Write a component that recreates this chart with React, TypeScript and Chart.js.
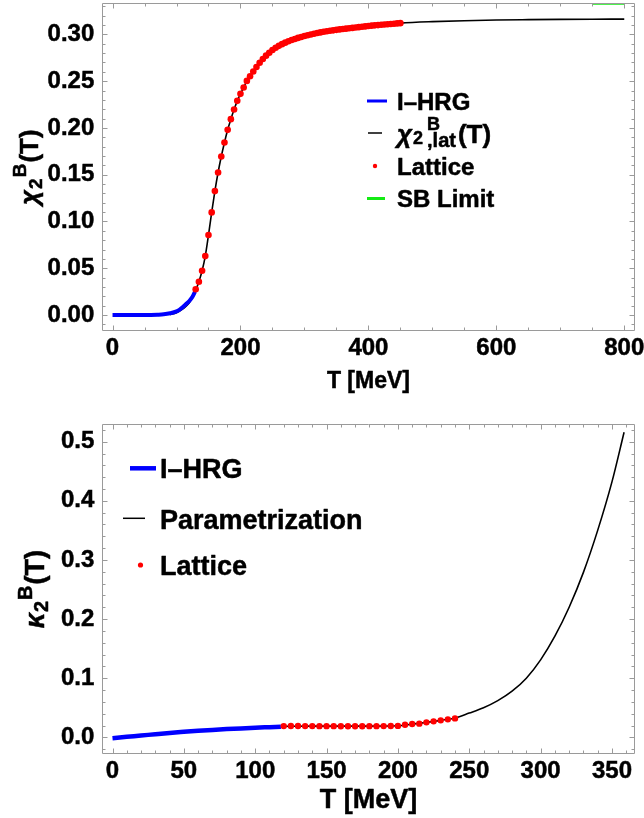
import React, { useEffect, useRef } from 'react';
import { Chart, registerables } from 'chart.js';

Chart.register(...registerables);

const FONT = '"Liberation Sans", Arial, Helvetica, sans-serif';

// ---------------- Top panel: chi_2^B(T) ----------------
const TOP_X_TICKS = [0, 200, 400, 600, 800];
const TOP_Y_TICKS = [0, 0.05, 0.1, 0.15, 0.2, 0.25, 0.3];

const HRG_T = [0, 20, 40, 60, 70, 80, 90, 100, 105, 110, 115, 120, 125, 129];
const HRG_CHI = [0, 0, 0, 0.0001, 0.0003, 0.0007, 0.0018, 0.0038, 0.0058, 0.0085, 0.0118, 0.015, 0.0195, 0.025];

const PARAM_T = [90, 100, 110, 115, 120, 125, 130, 135, 140, 145, 150, 155, 160, 165, 170, 175, 180, 185, 190, 195, 200, 205, 210, 215, 220, 230, 240, 250, 260, 280, 300, 325, 350, 375, 400, 450, 500, 550, 600, 650, 700, 750, 800];
const PARAM_CHI = [0.0004, 0.0025, 0.0065, 0.0095, 0.013, 0.019, 0.0265, 0.0356, 0.0473, 0.063, 0.0855, 0.1097, 0.1325, 0.1524, 0.1695, 0.1845, 0.198, 0.2094, 0.2197, 0.229, 0.2365, 0.2433, 0.2503, 0.2553, 0.2603, 0.2697, 0.2773, 0.2833, 0.2878, 0.294, 0.2983, 0.3022, 0.3049, 0.307, 0.309, 0.3121, 0.3137, 0.3147, 0.3154, 0.3158, 0.3161, 0.3163, 0.3164];

const LAT_T = [130, 135, 140, 145, 150, 155, 160, 165, 170, 175, 180, 185, 190, 195, 200, 205, 210, 215, 220, 225, 230, 235, 240, 245, 250, 255, 260, 265, 270, 275, 280, 285, 290, 295, 300, 305, 310, 315, 320, 325, 330, 335, 340, 345, 350, 355, 360, 365, 370, 375, 380, 385, 390, 395, 400, 405, 410, 415, 420, 425, 430, 435, 440, 445, 450];
const LAT_CHI = [0.0275, 0.0356, 0.0473, 0.063, 0.0855, 0.1097, 0.1325, 0.1524, 0.1695, 0.1845, 0.198, 0.2094, 0.2197, 0.229, 0.2365, 0.2433, 0.2503, 0.2553, 0.2603, 0.2652, 0.2697, 0.2737, 0.2773, 0.2805, 0.2833, 0.2857, 0.2878, 0.2896, 0.2912, 0.2927, 0.294, 0.2952, 0.2963, 0.2973, 0.2983, 0.2992, 0.3, 0.3008, 0.3015, 0.3022, 0.3028, 0.3034, 0.3039, 0.3044, 0.3049, 0.3054, 0.3058, 0.3062, 0.3066, 0.307, 0.3074, 0.3078, 0.3082, 0.3086, 0.309, 0.3094, 0.3097, 0.31, 0.3103, 0.3106, 0.3109, 0.3112, 0.3115, 0.3118, 0.3121];

const SB_T = [750, 800];
const SB_CHI = [0.3333, 0.3333];

// ---------------- Bottom panel: kappa_2^B(T) ----------------
const BOT_X_TICKS = [0, 50, 100, 150, 200, 250, 300, 350];
const BOT_Y_TICKS = [0, 0.1, 0.2, 0.3, 0.4, 0.5];

const HRG2_T = [0, 10, 20, 30, 40, 50, 60, 70, 80, 90, 100, 110, 118];
const HRG2_K = [-0.0015, 0.0008, 0.003, 0.0053, 0.0075, 0.0093, 0.011, 0.0125, 0.0139, 0.0151, 0.0162, 0.0172, 0.018];

const PARAM2_T = [118, 140, 160, 180, 200, 210, 220, 230, 240, 250, 260, 270, 280, 290, 300, 310, 320, 330, 340, 350, 358.5];
const PARAM2_K = [0.0185, 0.019, 0.019, 0.019, 0.0195, 0.0223, 0.0253, 0.0287, 0.0327, 0.041, 0.05, 0.062, 0.078, 0.1, 0.131, 0.171, 0.22, 0.279, 0.35, 0.432, 0.516];

const LAT2_T = [120, 125, 130, 135, 140, 145, 150, 155, 160, 165, 170, 175, 180, 185, 190, 195, 200, 205, 210, 215, 220, 225, 230, 235, 240];
const LAT2_K = [0.019, 0.0191, 0.0191, 0.019, 0.019, 0.0189, 0.0189, 0.0189, 0.0188, 0.0188, 0.0188, 0.0188, 0.0189, 0.0189, 0.019, 0.0191, 0.0193, 0.0213, 0.0225, 0.0231, 0.0253, 0.027, 0.0287, 0.0304, 0.032];

const BLUE = 'rgb(0,0,255)';
const RED = 'rgb(255,0,0)';
const GREEN = 'rgb(20,235,20)';
const BLACK = '#000';
const FRAME = '#9a9a9a';
const STROKE = 0.5;

type Seg = { t: string; size: number; dy?: number; italic?: boolean; stack?: boolean; gap?: number };

function drawRich(ctx: CanvasRenderingContext2D, segs: Seg[], x: number, y: number, center: boolean) {
  const laid: { s: Seg; sx: number }[] = [];
  let maxEnd = 0;
  let prevStart = 0;
  for (const s of segs) {
    ctx.font = `${s.italic ? 'italic ' : ''}bold ${s.size}px ${FONT}`;
    const w = ctx.measureText(s.t).width;
    const sx = s.stack ? prevStart : maxEnd + (s.gap || 0);
    prevStart = sx;
    laid.push({ s, sx });
    maxEnd = Math.max(maxEnd, sx + w);
  }
  const off = center ? -maxEnd / 2 : 0;
  ctx.fillStyle = '#000';
  ctx.strokeStyle = '#000';
  ctx.lineWidth = STROKE;
  ctx.lineJoin = 'round';
  ctx.textBaseline = 'alphabetic';
  ctx.textAlign = 'left';
  for (const { s, sx } of laid) {
    ctx.font = `${s.italic ? 'italic ' : ''}bold ${s.size}px ${FONT}`;
    ctx.fillText(s.t, x + sx + off, y + (s.dy || 0));
    ctx.strokeText(s.t, x + sx + off, y + (s.dy || 0));
  }
}

const mmaPlugin = {
  id: 'mma',
  afterDatasetsDraw(chart: any, _args: any, opts: any) {
    const { ctx, chartArea: a, scales } = chart;
    const x = scales.x;
    const y = scales.y;
    ctx.save();
    ctx.strokeStyle = FRAME;
    ctx.lineWidth = 1;
    ctx.beginPath();
    const L = Math.round(a.left) + 0.5;
    const R = Math.round(a.right) - 0.5;
    const T = Math.round(a.top) + 0.5;
    const B = Math.round(a.bottom) - 0.5;
    ctx.rect(L, T, R - L, B - T);
    const near = (v: number, arr: number[], eps: number) => arr.some((m) => Math.abs(m - v) < eps);
    const startX = Math.ceil(x.min / opts.xMinor) * opts.xMinor;
    for (let v = startX; v <= x.max + 1e-9; v += opts.xMinor) {
      const len = near(v, opts.xMajor, opts.xMinor / 10) ? 5 : 3;
      const px = Math.round(x.getPixelForValue(v)) + 0.5;
      ctx.moveTo(px, B); ctx.lineTo(px, B - len);
      ctx.moveTo(px, T); ctx.lineTo(px, T + len);
    }
    const startY = Math.ceil(y.min / opts.yMinor) * opts.yMinor;
    for (let v = startY; v <= y.max + 1e-9; v += opts.yMinor) {
      const len = near(v, opts.yMajor, opts.yMinor / 10) ? 5 : 3;
      const py = Math.round(y.getPixelForValue(v)) + 0.5;
      ctx.moveTo(L, py); ctx.lineTo(L + len, py);
      ctx.moveTo(R, py); ctx.lineTo(R - len, py);
    }
    ctx.stroke();
    ctx.restore();
  },
  afterDraw(chart: any, _args: any, opts: any) {
    const { ctx, chartArea: a } = chart;
    ctx.save();
    for (const it of opts.legend) {
      if (it.kind === 'line') {
        ctx.strokeStyle = it.color;
        ctx.lineWidth = it.width;
        ctx.beginPath();
        ctx.moveTo(it.x1, it.y);
        ctx.lineTo(it.x2, it.y);
        ctx.stroke();
      } else {
        ctx.fillStyle = it.color;
        ctx.beginPath();
        ctx.arc(it.x, it.y, it.r, 0, Math.PI * 2);
        ctx.fill();
      }
    }
    for (const tx of opts.texts) drawRich(ctx, tx.segs, tx.x, tx.y, false);
    drawRich(ctx, [{ t: 'T [MeV]', size: opts.xTitleSize }], (a.left + a.right) / 2, a.bottom + opts.xTitleOffset, true);
    ctx.save();
    ctx.translate(opts.yTitleX, (a.top + a.bottom) / 2);
    ctx.rotate(-Math.PI / 2);
    drawRich(ctx, opts.yTitle, 0, 0, true);
    ctx.restore();
    ctx.restore();
  },
};

function axis(min: number, max: number, ticks: number[], fmt: (v: number) => string, isX: boolean, size: number, pad: number) {
  return {
    type: 'linear',
    min,
    max,
    bounds: 'data',
    grid: { display: false, drawTicks: false },
    border: { display: false },
    ticks: {
      font: { family: FONT, size: 24, weight: 'bold' },
      color: '#000',
      textStrokeColor: '#000',
      textStrokeWidth: STROKE,
      padding: pad,
      autoSkip: false,
      maxRotation: 0,
      minRotation: 0,
      callback: (v: any) => fmt(Number(v)),
    },
    afterBuildTicks: (s: any) => {
      s.ticks = ticks.map((v) => ({ value: v }));
    },
    afterFit: (s: any) => {
      if (isX) s.height = size;
      else s.width = size;
      s.paddingLeft = 0;
      s.paddingRight = 0;
      s.paddingTop = 0;
      s.paddingBottom = 0;
    },
  };
}

const pts = (xs: number[], ys: number[]) => xs.map((v, i) => ({ x: v, y: ys[i] }));

function lineDs(label: string, xs: number[], ys: number[], color: string, width: number) {
  return {
    label,
    data: pts(xs, ys),
    showLine: true,
    borderColor: color,
    backgroundColor: color,
    borderWidth: width,
    pointRadius: 0,
    pointHoverRadius: 0,
    cubicInterpolationMode: 'monotone',
    fill: false,
  };
}

function dotDs(label: string, xs: number[], ys: number[], r: number) {
  return {
    label,
    data: pts(xs, ys),
    showLine: false,
    borderColor: RED,
    backgroundColor: RED,
    pointBackgroundColor: RED,
    pointBorderWidth: 0,
    pointRadius: r,
    pointHoverRadius: r,
  };
}

function topConfig(): any {
  return {
    type: 'scatter',
    data: {
      datasets: [
        dotDs('Lattice', LAT_T, LAT_CHI, 3.3),
        lineDs('I-HRG', HRG_T, HRG_CHI, BLUE, 4),
        lineDs('chi2B,lat(T)', PARAM_T, PARAM_CHI, BLACK, 1.6),
        lineDs('SB Limit', SB_T, SB_CHI, GREEN, 3),
      ],
    },
    options: {
      animation: false,
      responsive: false,
      devicePixelRatio: 1,
      layout: { padding: { left: 0, right: 9.5, top: 3, bottom: 0 } },
      scales: {
        x: axis(-16, 816, TOP_X_TICKS, (v) => String(Math.round(v)), true, 69, 3),
        y: axis(-0.0171, 0.3333, TOP_Y_TICKS, (v) => v.toFixed(2), false, 102.3, 8),
      },
      plugins: {
        legend: { display: false },
        tooltip: { enabled: false },
        mma: {
          xMajor: TOP_X_TICKS,
          xMinor: 50,
          yMajor: TOP_Y_TICKS,
          yMinor: 0.01,
          xTitleSize: 23,
          xTitleOffset: 57,
          yTitleX: 38,
          yTitle: [
            { t: 'χ', size: 26, italic: true },
            { t: '2', size: 19, dy: 4, gap: 1 },
            { t: 'B', size: 19, dy: -12, gap: 1 },
            { t: '(T)', size: 26, gap: 1 },
          ],
          legend: [
            { kind: 'line', color: BLUE, width: 3, x1: 367, x2: 387, y: 101 },
            { kind: 'line', color: BLACK, width: 1.5, x1: 368, x2: 382, y: 133 },
            { kind: 'dot', color: RED, r: 2.2, x: 375, y: 166 },
            { kind: 'line', color: GREEN, width: 3, x1: 367, x2: 385, y: 198.5 },
          ],
          texts: [
            { x: 397, y: 110, segs: [{ t: 'I–HRG', size: 24 }] },
            {
              x: 397,
              y: 143,
              segs: [
                { t: 'χ', size: 26, italic: true },
                { t: '2', size: 18, dy: 1, gap: 1 },
                { t: 'B', size: 18, dy: -13, gap: 4 },
                { t: ',lat', size: 20, dy: 4, stack: true },
                { t: '(T)', size: 26, gap: 2 },
              ],
            },
            { x: 397, y: 175, segs: [{ t: 'Lattice', size: 24 }] },
            { x: 397, y: 207, segs: [{ t: 'SB Limit', size: 24 }] },
          ],
        },
      },
    },
    plugins: [mmaPlugin],
  };
}

function bottomConfig(): any {
  return {
    type: 'scatter',
    data: {
      datasets: [
        dotDs('Lattice', LAT2_T, LAT2_K, 3.2),
        lineDs('I-HRG', HRG2_T, HRG2_K, BLUE, 4.5),
        lineDs('Parametrization', PARAM2_T, PARAM2_K, BLACK, 1.6),
      ],
    },
    options: {
      animation: false,
      responsive: false,
      devicePixelRatio: 1,
      layout: { padding: { left: 0, right: 9.5, top: 24.3, bottom: 0 } },
      scales: {
        x: axis(-7.15, 365.8, BOT_X_TICKS, (v) => String(Math.round(v)), true, 64, 3),
        y: axis(-0.0282, 0.5294, BOT_Y_TICKS, (v) => v.toFixed(1), false, 102.3, 8),
      },
      plugins: {
        legend: { display: false },
        tooltip: { enabled: false },
        mma: {
          xMajor: BOT_X_TICKS,
          xMinor: 10,
          yMajor: BOT_Y_TICKS,
          yMinor: 0.02,
          xTitleSize: 27,
          xTitleOffset: 54,
          yTitleX: 44,
          yTitle: [
            { t: 'κ', size: 27, italic: true },
            { t: '2', size: 20, dy: 4, gap: 1 },
            { t: 'B', size: 20, dy: -12, gap: 1 },
            { t: '(T)', size: 27, gap: 1 },
          ],
          legend: [
            { kind: 'line', color: BLUE, width: 4.5, x1: 130, x2: 156, y: 68.3 },
            { kind: 'line', color: BLACK, width: 1.5, x1: 123, x2: 145, y: 118.3 },
            { kind: 'dot', color: RED, r: 2.6, x: 140.5, y: 165 },
          ],
          texts: [
            { x: 160, y: 78, segs: [{ t: 'I–HRG', size: 27 }] },
            { x: 160, y: 128.5, segs: [{ t: 'Parametrization', size: 27 }] },
            { x: 160, y: 174.5, segs: [{ t: 'Lattice', size: 27 }] },
          ],
        },
      },
    },
    plugins: [mmaPlugin],
  };
}

function Panel({ build, width, height }: { build: () => any; width: number; height: number }) {
  const ref = useRef<HTMLCanvasElement>(null);
  useEffect(() => {
    if (!ref.current) return;
    const chart = new Chart(ref.current, build());
    return () => chart.destroy();
  }, [build]);
  return <canvas ref={ref} width={width} height={height} style={{ display: 'block', width, height }} />;
}

export default function App() {
  return (
    <div style={{ position: 'absolute', left: 0, top: 0, width: 644, height: 818, background: '#fff' }}>
      <Panel build={topConfig} width={644} height={400} />
      <Panel build={bottomConfig} width={644} height={418} />
    </div>
  );
}
